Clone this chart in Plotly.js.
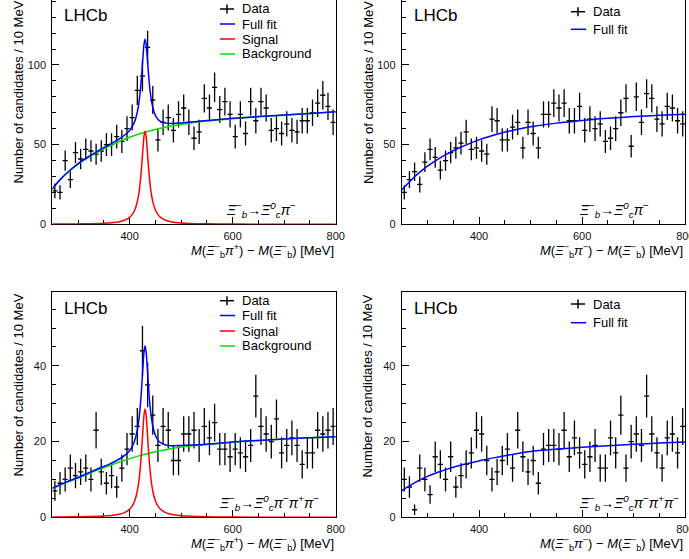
<!DOCTYPE html>
<html>
<head>
<meta charset="utf-8">
<script src="https://cdn.plot.ly/plotly-3.0.1.min.js"></script>
<style>
html,body{margin:0;padding:0;background:#fff;overflow:hidden;width:689px;height:559px;}
#c{position:absolute;left:0;top:-10px;width:689px;height:569px;}
</style>
</head>
<body>
<div id="c"></div>
<script>
// ---- bin centres (MeV) ----
const binCenters = [255,265,275,285,295,305,315,325,335,345,355,365,375,385,395,405,415,425,435,445,455,465,475,485,495,505,515,525,535,545,555,565,575,585,595,605,615,625,635,645,655,665,675,685,695,705,715,725,735,745,755,765,775,785,795];

// ---- data counts ----
const dataRS1 = [21,20,40,28,45,41,47,46,44,46,50,50,55,52,60,67,84,93,111,78,53,64,67,59,69,73,64,54,58,79,73,86,72,77,69,55,69,57,77,65,77,73,59,60,57,63,59,58,65,65,70,76,81,74,64];
const dataWS1 = [20,28,33,25,39,47,42,34,40,45,48,51,58,47,48,46,44,66,65,53,53,61,64,48,64,57,48,69,69,76,73,76,65,65,74,59,66,60,63,52,54,60,70,79,49,80,64,82,79,66,63,74,73,65,63];
const dataRS3 = [7,9,10,13,11,12,13,10,23,12,9,11,8,13,18,22,24,44,35,27,19,24,23,15,15,22,22,23,19,24,21,25,18,18,16,18,17,16,19,32,24,22,20,26,17,19,21,19,14,17,17,23,22,23,24];
const dataWS3 = [10,8,2,13,10,6,16,14,10,16,8,11,14,17,23,22,15,10,12,15,18,13,23,16,12,15,9,18,19,19,18,23,16,21,17,14,16,19,13,13,21,17,27,13,20,22,19,32,22,17,13,21,22,17,24];

// ---- fit curves ----
const curveX = [250,260,270,280,290,300,320,340,360,380,400,420,440,460,480,500,550,600,650,700,750,800];
const peakX = [250,300,350,380,390,400,405,410,415,418,420,422,424,426,428,430,432,434,436,438,440,442,445,450,455,460,470,480,500,550,600,700,800];
const fullX = [250,260,270,280,290,300,320,340,360,380,390,400,405,410,415,418,420,422,424,426,428,430,432,434,436,438,440,442,445,450,455,460,470,480,500,550,600,650,700,750,800];

const bgRS1 = [22,26,29.5,32.5,35.3,37.8,42,45.7,49,52,54.6,56.8,58.7,60.3,61.6,62.7,64.8,66.3,67.5,68.5,69.6,70.6];
const sigRS1 = [0.13,0.25,0.65,1.64,2.53,4.34,6.05,8.94,14.2,19.5,24.5,31.0,39.0,47.8,55.3,58.4,55.3,47.8,39.0,31.0,24.5,19.5,14.2,8.94,6.05,4.34,2.53,1.64,0.85,0.29,0.15,0.06,0.03];
const fullRS1 = [22.1,26.2,29.7,32.7,35.5,38.1,42.4,46.3,49.9,53.6,55.9,58.9,61.3,64.6,70.5,76.1,81.3,88.0,96.2,105.2,112.9,116.2,113.3,106.0,97.3,89.5,83.2,78.4,73.3,68.4,66.0,64.6,63.5,63.2,63.6,65.1,66.5,67.6,68.6,69.6,70.6];
const fitWS1 = [21.5,25,28.3,31.3,34,36.5,40.8,44.5,47.7,50.5,53,55.1,57,58.6,60,61.2,63.5,65.2,66.5,67.6,68.4,69];

const bgRS3 = [7.6,8.2,8.8,9.4,9.9,10.4,11.5,12.6,13.6,14.6,15.5,16.3,17.0,17.6,18.1,18.6,19.2,19.8,20.3,20.7,21.0,21.3];
const sigRS3 = [0.06,0.12,0.32,0.80,1.24,2.13,2.96,4.38,6.95,9.55,12.0,15.2,19.1,23.4,27.1,28.6,27.1,23.4,19.1,15.2,12.0,9.55,6.95,4.38,2.96,2.13,1.24,0.80,0.42,0.14,0.07,0.03,0.01];
const fullRS3 = [7.7,8.3,8.9,9.5,10.0,10.5,11.7,12.9,14.0,15.4,16.3,17.6,18.7,20.3,23.1,25.8,28.3,31.6,35.6,40.0,43.7,45.3,43.8,40.2,36.0,32.1,29.0,26.6,24.1,21.7,20.4,19.7,19.1,18.9,19.0,19.3,19.9,20.3,20.7,21.0,21.3];
const fitWS3 = [7.0,7.9,8.7,9.5,10.2,10.8,11.9,12.8,13.6,14.3,14.9,15.5,16.0,16.5,17.0,17.4,18.0,18.5,18.9,19.3,19.6,19.9];

// ---- text ----
const yTitle = "Number of candidates / 10 MeV";
const xTitleRS = "<i>M</i>(<i>Ξ</i><sup>−</sup><sub>b</sub><i>π</i><sup>+</sup>) − <i>M</i>(<i>Ξ</i><sup>−</sup><sub>b</sub>) [MeV]";
const xTitleWS = "<i>M</i>(<i>Ξ</i><sup>−</sup><sub>b</sub><i>π</i><sup>−</sup>) − <i>M</i>(<i>Ξ</i><sup>−</sup><sub>b</sub>) [MeV]";
const decay1 = "<i>Ξ</i><sup>−</sup><sub><i>b</i></sub>→<i>Ξ</i><sup><i>0</i></sup><sub><i>c</i></sub><i>π</i><sup>−</sup>";
const decay3 = "<i>Ξ</i><sup>−</sup><sub><i>b</i></sub>→<i>Ξ</i><sup><i>0</i></sup><sub><i>c</i></sub><i>π</i><sup>−</sup><i>π</i><sup>+</sup><i>π</i><sup>−</sup>";
const legendFull = ["Data","Full fit","Signal","Background"];
const legendShort = ["Data","Full fit"];

const FONT = '"Liberation Sans", Arial, Helvetica, sans-serif';
const BLUE = '#0000ff', RED = '#ff0000', GREEN = '#00e000';

// page pixel -> paper fraction (div is 689x569 shifted up by 10px)
function fx(x){ return x/689; }
function fy(y){ return (569-(y+10))/569; }

function dataTrace(y, xa, ya){
  return {x: binCenters, y: y, xaxis: xa, yaxis: ya, type:'scatter', mode:'markers',
    marker:{size:1, color:'#000'}, showlegend:false, hoverinfo:'skip',
    error_y:{type:'data', array: y.map(v=>Math.sqrt(v)), visible:true, color:'#000', thickness:1.3, width:0},
    error_x:{type:'constant', value:5, visible:true, color:'#000', thickness:1.3, width:0}};
}
function lineTrace(x, y, color, xa, ya){
  return {x:x, y:y, xaxis:xa, yaxis:ya, type:'scatter', mode:'lines',
    line:{color:color, width:1.5, shape:'spline', smoothing:0.8}, showlegend:false, hoverinfo:'skip'};
}

const traces = [
  dataTrace(dataRS1,'x','y'),
  lineTrace(curveX,bgRS1,GREEN,'x','y'),
  lineTrace(peakX,sigRS1,RED,'x','y'),
  lineTrace(fullX,fullRS1,BLUE,'x','y'),
  dataTrace(dataWS1,'x2','y2'),
  lineTrace(curveX,fitWS1,BLUE,'x2','y2'),
  dataTrace(dataRS3,'x3','y3'),
  lineTrace(curveX,bgRS3,GREEN,'x3','y3'),
  lineTrace(peakX,sigRS3,RED,'x3','y3'),
  lineTrace(fullX,fullRS3,BLUE,'x3','y3'),
  dataTrace(dataWS3,'x4','y4'),
  lineTrace(curveX,fitWS3,BLUE,'x4','y4')
];

function xAxis(dom, anchor){
  return {domain:dom, anchor:anchor, range:[250,800], tick0:0, dtick:200, ticks:'inside', ticklen:7,
    tickwidth:1, tickcolor:'#000', showline:true, linecolor:'#000', linewidth:1, mirror:true,
    showgrid:false, zeroline:false, layer:'below traces', ticklabelstandoff:1,
    ticklabeloverflow:'allow',
    tickfont:{size:11, color:'#111', family:FONT},
    minor:{tick0:0, dtick:50, ticks:'inside', ticklen:4, tickcolor:'#000', tickwidth:1, showgrid:false},
    fixedrange:true};
}
function yAxis(dom, anchor, range, dtick, mdtick){
  return {domain:dom, anchor:anchor, range:range, tick0:0, dtick:dtick, ticks:'inside', ticklen:7,
    tickwidth:1, tickcolor:'#000', showline:true, linecolor:'#000', linewidth:1, mirror:true,
    showgrid:false, zeroline:false, ticklabelstandoff:3,
    tickfont:{size:11, color:'#111', family:FONT},
    minor:{tick0:0, dtick:mdtick, ticks:'inside', ticklen:4, tickcolor:'#000', tickwidth:1, showgrid:false},
    fixedrange:true};
}

const xL = [fx(52.3), fx(335.7)], xR = [fx(401.7), fx(685.3)];
const yT = [fy(224.3), fy(-1.3)], yB = [fy(517.3), fy(291.7)];

const annotations = [];
const shapes = [];
function txt(text, x, y, size, xanchor, extra){
  annotations.push(Object.assign({text:text, x:fx(x), y:fy(y), xref:'paper', yref:'paper',
    xanchor:xanchor||'left', yanchor:'middle', showarrow:false,
    font:{size:size, color:'#000', family:FONT}}, extra||{}));
}
function seg(x0,y0,x1,y1,color){
  shapes.push({type:'line', xref:'paper', yref:'paper', x0:fx(x0), y0:fy(y0), x1:fx(x1), y1:fy(y1),
    line:{color:color, width:1.5}});
}
function legend(labels, x, ys){
  const cols = [null, BLUE, RED, GREEN];
  labels.forEach((lab,i)=>{
    const y = ys[i];
    if(i===0){ seg(x-7,y,x+7,y,'#000'); seg(x,y-4.5,x,y+4.5,'#000'); }
    else { seg(x-7,y,x+8,y,cols[i]); }
    txt(lab, x+13, y, 13);
  });
}

function panel(L, R, T, B, xTitle, decay, labels, legX, legYs, decayX){
  txt('LHCb', L+10, T+16.5, 17);
  txt(yTitle, L-34, T, 13, 'center', {textangle:-90, yanchor:'top'});
  txt(xTitle, R, B+26.5, 13, 'right');
  txt(decay, decayX, B-14, 14);
  legend(labels, legX, legYs);
}
panel(52.3, 335.7, -1.3, 224.3, xTitleRS, decay1, legendFull, 227, [9,24,39,54], 224);
panel(401.7, 685.3, -1.3, 224.3, xTitleWS, decay1, legendShort, 578, [11.7,29.3], 577);
panel(52.3, 335.7, 291.7, 517.3, xTitleRS, decay3, legendFull, 227, [300.7,315.5,331,346], 217);
panel(401.7, 685.3, 292.3, 517.3, xTitleWS, decay3, legendShort, 578, [304,322.7], 577);

const layout = {
  width:689, height:569, margin:{l:0,r:0,t:0,b:0},
  paper_bgcolor:'#fff', plot_bgcolor:'#fff', showlegend:false,
  font:{family:FONT, color:'#000'},
  xaxis: xAxis(xL,'y'), yaxis: yAxis(yT,'x',[0,141.6],50,10),
  xaxis2: xAxis(xR,'y2'), yaxis2: yAxis(yT,'x2',[0,141.6],50,10),
  xaxis3: xAxis(xL,'y3'), yaxis3: yAxis(yB,'x3',[0,59.6],20,5),
  xaxis4: xAxis(xR,'y4'), yaxis4: yAxis(yB,'x4',[0,59.6],20,5),
  annotations: annotations, shapes: shapes
};
Plotly.newPlot('c', traces, layout, {staticPlot:true, displayModeBar:false});
</script>
</body>
</html>
